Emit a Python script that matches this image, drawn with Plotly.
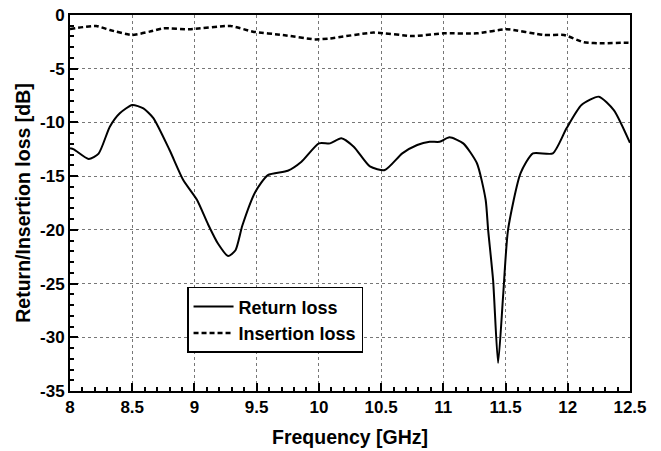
import plotly.graph_objects as go

rl_freq = [8.0, 8.03, 8.15, 8.23, 8.32, 8.40, 8.50, 8.59, 8.67, 8.80, 8.91, 9.02, 9.11, 9.19,
           9.27, 9.33, 9.385, 9.49, 9.59, 9.75, 9.86, 10.0, 10.09, 10.18, 10.28, 10.41, 10.53,
           10.67, 10.79, 10.89, 10.97, 11.05, 11.16, 11.27, 11.34, 11.36, 11.40, 11.44, 11.48, 11.52,
           11.62, 11.72, 11.88, 11.99, 12.11, 12.25, 12.37, 12.5]
rl_db = [-12.4, -12.5, -13.4, -12.9, -10.4, -9.15, -8.38, -8.7, -9.6, -12.57, -15.36, -17.2, -19.5, -21.3,
         -22.44, -21.9, -19.6, -16.45, -14.9, -14.5, -13.66, -11.95, -11.95, -11.48, -12.26, -14.1, -14.43,
         -12.88, -12.1, -11.8, -11.8, -11.39, -11.95, -13.8, -17.2, -20.0, -24.7, -32.4, -26.2, -20.0,
         -14.74, -12.88, -12.88, -10.55, -8.38, -7.6, -8.85, -11.9]

il_freq = [8.0, 8.21, 8.32, 8.5, 8.64, 8.75, 8.96, 9.29, 9.47, 9.71, 9.97, 10.09, 10.44, 10.76,
           11.0, 11.27, 11.51, 11.81, 11.97, 12.13, 12.29, 12.45, 12.5]
il_db = [-1.3, -1.02, -1.4, -1.86, -1.55, -1.24, -1.33, -1.02, -1.55, -1.86, -2.27, -2.18, -1.64, -1.96,
         -1.71, -1.71, -1.33, -1.86, -1.86, -2.54, -2.64, -2.58, -2.6]

x_ticks = [8, 8.5, 9, 9.5, 10, 10.5, 11, 11.5, 12, 12.5]
x_labels = ["8", "8.5", "9", "9.5", "10", "10.5", "11", "11.5", "12", "12.5"]
y_ticks = [0, -5, -10, -15, -20, -25, -30, -35]
y_labels = ["0", "-5", "-10", "-15", "-20", "-25", "-30", "-35"]

FONT = "Liberation Sans, Arial, sans-serif"

fig = go.Figure()
fig.add_trace(go.Scatter(x=rl_freq, y=rl_db, mode="lines", name="<b>Return loss</b>",
                         line=dict(color="black", width=2, shape="spline", smoothing=0.6)))
fig.add_trace(go.Scatter(x=il_freq, y=il_db, mode="lines", name="<b>Insertion loss</b>",
                         line=dict(color="black", width=2.5, dash="5px,3px", shape="spline", smoothing=0.5)))

axis_common = dict(
    showline=True, linecolor="black", linewidth=2, mirror=True,
    ticks="inside", ticklen=8, tickwidth=1.5, tickcolor="black",
    showgrid=True, gridcolor="#777777", griddash="dot", gridwidth=1,
    zeroline=False, automargin=False,
    tickfont=dict(family=FONT, size=17, color="black"),
)

fig.update_xaxes(range=[8, 12.5], tickvals=x_ticks, ticktext=["<b>%s</b>" % t for t in x_labels],
                 minor=dict(dtick=0.1, ticks="inside", ticklen=4, tickcolor="black", showgrid=False),
                 title=dict(text="<b>Frequency [GHz]</b>", font=dict(family=FONT, size=19.5, color="black"),
                            standoff=14),
                 **axis_common)
fig.update_yaxes(range=[-35, 0], tickvals=y_ticks, ticktext=["<b>%s</b>" % t for t in y_labels],
                 minor=dict(dtick=1, ticks="inside", ticklen=4, tickcolor="black", showgrid=False),
                 title=dict(text="<b>Return/Insertion loss [dB]</b>", font=dict(family=FONT, size=19.5, color="black"),
                            standoff=4),
                 **axis_common)

fig.update_layout(
    width=661, height=451,
    margin=dict(l=70, r=31, t=15, b=60),
    paper_bgcolor="white", plot_bgcolor="white",
    showlegend=True,
    legend=dict(x=0.209, y=0.277, xanchor="left", yanchor="top",
                bgcolor="white", bordercolor="black", borderwidth=1.5,
                font=dict(family=FONT, size=18, color="black"),
                tracegroupgap=0, itemwidth=40),
)

fig.write_html("out.html", config={"displayModeBar": False},
               post_script="document.body.style.margin='0px';")
